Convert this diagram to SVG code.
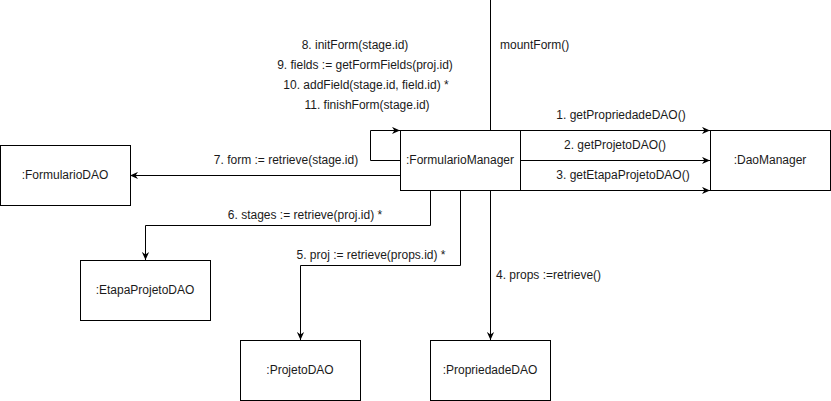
<svg xmlns="http://www.w3.org/2000/svg" width="831" height="401" viewBox="0 0 831 401">
<style>
.box{fill:#fff;stroke:#000;stroke-width:1}
.t{font-family:"Liberation Sans",Arial,sans-serif;font-size:12px;fill:#1a1a1a;text-anchor:middle;dominant-baseline:central}
.l{font-family:"Liberation Sans",Arial,sans-serif;font-size:12px;fill:#1a1a1a;dominant-baseline:central}
.c{fill:none;stroke:#000;stroke-width:1}
.a{marker-end:url(#arr)}
</style>
<defs>
<marker id="arr" viewBox="0 0 10 10" refX="10" refY="5" markerWidth="8" markerHeight="8" markerUnits="userSpaceOnUse" orient="auto">
<path d="M0,0.5 L10,5 L0,9.5 L3,5 z" fill="#000"/>
</marker>
</defs>
<rect width="831" height="401" fill="#fff"/>
<g id="connectors">
<path class="c" d="M490.5,0 V130"/>
<path class="c a" d="M400,160.5 H370.5 V130.5 H400"/>
<path class="c a" d="M520,130.5 H710"/>
<path class="c a" d="M520,160.5 H710"/>
<path class="c a" d="M520,190.5 H710"/>
<path class="c a" d="M400,175.5 H130"/>
<path class="c a" d="M430.5,190 V225.5 H145.5 V260"/>
<path class="c a" d="M460.5,190 V265.5 H300.5 V340"/>
<path class="c a" d="M490.5,190 V340"/>
<text class="l" x="500" y="45">mountForm()</text>
<text class="t" x="355" y="45">8. initForm(stage.id)</text>
<text class="t" x="365" y="65">9. fields := getFormFields(proj.id)</text>
<text class="t" x="366" y="85">10. addField(stage.id, field.id) *</text>
<text class="t" x="367" y="105">11. finishForm(stage.id)</text>
<text class="t" x="621" y="115">1. getPropriedadeDAO()</text>
<text class="t" x="615" y="145">2. getProjetoDAO()</text>
<text class="t" x="623" y="175">3. getEtapaProjetoDAO()</text>
<text class="t" x="286" y="160">7. form := retrieve(stage.id)</text>
<text class="t" x="305" y="215">6. stages := retrieve(proj.id) *</text>
<text class="t" x="371" y="255">5. proj := retrieve(props.id) *</text>
<text class="l" x="496" y="275">4. props :=retrieve()</text>
</g>
<g id="formularioManager"><rect class="box" x="400.5" y="130.5" width="120" height="60"/><text class="t" x="460" y="160">:FormularioManager</text></g>
<g id="daoManager"><rect class="box" x="710.5" y="130.5" width="120" height="60"/><text class="t" x="770" y="160">:DaoManager</text></g>
<g id="formularioDAO"><rect class="box" x="0.5" y="145.5" width="130" height="60"/><text class="t" x="65" y="175">:FormularioDAO</text></g>
<g id="etapaProjetoDAO"><rect class="box" x="80.5" y="260.5" width="130" height="60"/><text class="t" x="145" y="290">:EtapaProjetoDAO</text></g>
<g id="projetoDAO"><rect class="box" x="240.5" y="340.5" width="120" height="60"/><text class="t" x="300" y="370">:ProjetoDAO</text></g>
<g id="propriedadeDAO"><rect class="box" x="430.5" y="340.5" width="120" height="60"/><text class="t" x="490" y="370">:PropriedadeDAO</text></g>
</svg>
